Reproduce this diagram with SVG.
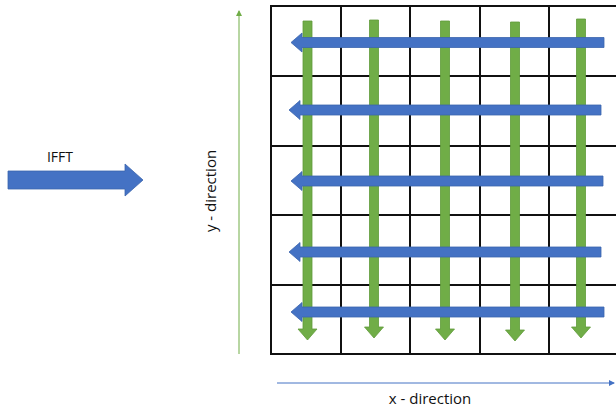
<svg xmlns="http://www.w3.org/2000/svg" width="616" height="409" viewBox="0 0 616 409">
  <style>
    .grid line { stroke: #111; stroke-width: 2; }
    .blue { fill: #4472c4; stroke: #3b64ad; stroke-width: 0.8; }
    .green { fill: #70ad47; stroke: #5f9a3a; stroke-width: 0.8; }
    .label { font-family: "Open Sans", "Liberation Sans", sans-serif; fill: #111; }
  </style>
  <defs>
    <marker id="headGreen" markerWidth="6" markerHeight="6" refX="5" refY="3" orient="auto" markerUnits="userSpaceOnUse">
      <path d="M0,0 L6,3 L0,6 Z" fill="#70ad47"/>
    </marker>
    <marker id="headBlue" markerWidth="6" markerHeight="6" refX="5" refY="3" orient="auto" markerUnits="userSpaceOnUse">
      <path d="M0,0 L6,3 L0,6 Z" fill="#4472c4"/>
    </marker>
  </defs>

  <rect width="616" height="409" fill="#fff"/>

  <!-- IFFT block arrow -->
  <g id="ifft">
    <path class="blue" d="M8,171 H125 V164 L143,180 L125,196 V189 H8 Z"/>
    <text class="label" x="60" y="162" font-size="14" text-anchor="middle">IFFT</text>
  </g>

  <!-- axes -->
  <g id="axes">
    <line x1="239" y1="354" x2="239" y2="11" stroke="#70ad47" stroke-width="1" marker-end="url(#headGreen)"/>
    <text class="label" font-size="15" text-anchor="middle" transform="translate(216,191) rotate(-90)">y - direction</text>
    <line x1="277" y1="383" x2="614" y2="383" stroke="#4472c4" stroke-width="1" marker-end="url(#headBlue)"/>
    <text class="label" x="430" y="404" font-size="15" text-anchor="middle">x - direction</text>
  </g>

  <!-- 5x5 grid -->
  <g id="grid" class="grid">
    <line x1="271" y1="5" x2="271" y2="355"/>
    <line x1="341" y1="6" x2="341" y2="354"/>
    <line x1="410" y1="6" x2="410" y2="354"/>
    <line x1="480" y1="6" x2="480" y2="354"/>
    <line x1="549" y1="6" x2="549" y2="354"/>
    <line x1="270" y1="6" x2="620" y2="6"/>
    <line x1="271" y1="76" x2="620" y2="76"/>
    <line x1="271" y1="146" x2="620" y2="146"/>
    <line x1="271" y1="215" x2="620" y2="215"/>
    <line x1="271" y1="285" x2="620" y2="285"/>
    <line x1="270" y1="354" x2="620" y2="354"/>
  </g>

  <!-- connectors: column (green) and row (blue) transforms -->
  <g id="connectors">
    <path class="green" d="M303,21 H312 V329 H317 L307.5,340 L298,329 H303 Z"/>
    <path class="green" d="M369.5,20 H378.5 V327 H383.5 L374,338 L364.5,327 H369.5 Z"/>
    <path class="green" d="M440.5,21 H449.5 V329 H454.5 L445,340 L435.5,329 H440.5 Z"/>
    <path class="green" d="M510.5,22 H519.5 V330 H524.5 L515,341 L505.5,330 H510.5 Z"/>
    <path class="green" d="M576.5,19 H585.5 V327 H590.5 L581,338 L571.5,327 H576.5 Z"/>

    <path class="blue" d="M604,37.5 H302 V33 L291,42.5 L302,52 V47.5 H604 Z"/>
    <path class="blue" d="M601,105 H300 V100.5 L289,110 L300,119.5 V115 H601 Z"/>
    <path class="blue" d="M603,176 H302 V171.5 L291,181 L302,190.5 V186 H603 Z"/>
    <path class="blue" d="M601,247 H300 V242.5 L289,252 L300,261.5 V257 H601 Z"/>
    <path class="blue" d="M604,307 H302 V302.5 L291,312 L302,321.5 V317 H604 Z"/>
  </g>
</svg>
